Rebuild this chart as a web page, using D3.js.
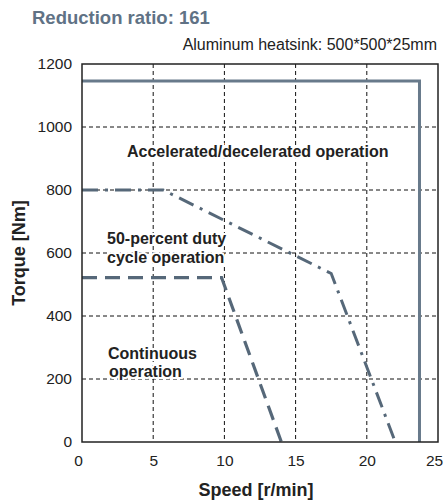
<!DOCTYPE html>
<html>
<head>
<meta charset="utf-8">
<script src="https://cdn.jsdelivr.net/npm/d3@7"></script>
<style>
  body { margin: 0; background: #fff; }
  text { font-family: "Liberation Sans", Arial, sans-serif; }
</style>
</head>
<body>
<div id="chart"></div>
<script>
// data
const xTicks = [0, 5, 10, 15, 20, 25];
const yTicks = [0, 200, 400, 600, 800, 1000, 1200];

// accelerated/decelerated operation (solid)
const accelSpeed  = [0, 23.7, 23.7];
const accelTorque = [1146, 1146, 0];

// 50-percent duty cycle operation (dash-dot)
const dutySpeed  = [0, 5.7, 17.5, 22.0];
const dutyTorque = [800, 800, 535, 0];

// continuous operation (dashed)
const contSpeed  = [0, 9.8, 14.0];
const contTorque = [522, 522, 0];

const W = 445, H = 501;
const margin = {top: 64, right: 7, bottom: 59, left: 82},
    width = W - margin.left - margin.right,
    height = H - margin.top - margin.bottom;

const svg = d3.select("#chart")
  .append("svg")
    .attr("width", W)
    .attr("height", H);

const g = svg.append("g")
    .attr("transform", `translate(${margin.left},${margin.top})`);

const x = d3.scaleLinear().domain([0, 25]).range([0, width]);
const y = d3.scaleLinear().domain([0, 1200]).range([height, 0]);

// titles
svg.append("text").attr("x", 32).attr("y", 24).text("Reduction ratio: 161")
  .style("font-size", "18.5px").style("font-weight", "bold").attr("fill", "#607285");
svg.append("text").attr("x", 437).attr("y", 50).text("Aluminum heatsink: 500*500*25mm")
  .style("font-size", "16px").attr("fill", "#222").attr("text-anchor", "end");

// grid
g.selectAll(".vgrid")
  .data(xTicks.filter(d => d > 0 && d < 25))
  .join("line")
    .attr("x1", d => x(d)).attr("x2", d => x(d))
    .attr("y1", 0).attr("y2", height)
    .attr("stroke", "#111").attr("stroke-width", 1).attr("stroke-dasharray", "4,3");
g.selectAll(".hgrid")
  .data(yTicks.filter(d => d > 0 && d < 1200))
  .join("line")
    .attr("y1", d => y(d)).attr("y2", d => y(d))
    .attr("x1", 0).attr("x2", width)
    .attr("stroke", "#111").attr("stroke-width", 1).attr("stroke-dasharray", "4,3");

// axes
const yAxis = g.append("g")
  .call(d3.axisLeft(y).tickValues(yTicks).tickFormat(d3.format("d")).tickSize(0).tickPadding(10));
yAxis.select(".domain").remove();
yAxis.selectAll("text").style("font-size", "15.5px").attr("fill", "#222")
  .style("font-family", "Liberation Sans, Arial, sans-serif");

const xAxis = g.append("g")
  .attr("transform", `translate(0, ${height})`)
  .call(d3.axisBottom(x).tickValues(xTicks).tickSize(0).tickPadding(13));
xAxis.select(".domain").remove();
xAxis.selectAll("text").style("font-size", "15.5px").attr("fill", "#222")
  .style("font-family", "Liberation Sans, Arial, sans-serif")
  .attr("dx", d => d === 25 ? "-4" : d === 0 ? "-4" : null);

svg.append("text").attr("x", 256).attr("y", 496).text("Speed [r/min]")
  .attr("text-anchor", "middle").style("font-size", "18px").style("font-weight", "bold").attr("fill", "#222");
svg.append("text").attr("transform", "translate(25,253) rotate(-90)").text("Torque [Nm]")
  .attr("text-anchor", "middle").style("font-size", "18px").style("font-weight", "bold").attr("fill", "#222");

// curves
const line = d3.line().x(d => x(d[0])).y(d => y(d[1]));
const curves = [
  {sp: accelSpeed, tq: accelTorque, dash: null, color: "#687a8b", w: 3},
  {sp: dutySpeed, tq: dutyTorque, dash: "16,7,3,7", color: "#566879", w: 3},
  {sp: contSpeed, tq: contTorque, dash: "15,8", color: "#566879", w: 3.2}
];
g.selectAll(".curve")
  .data(curves)
  .join("path")
    .attr("fill", "none")
    .attr("stroke", d => d.color)
    .attr("stroke-width", d => d.w)
    .attr("stroke-dasharray", d => d.dash)
    .attr("d", d => line(d.sp.map((s, i) => [s, d.tq[i]])));

// region labels (white halo hides grid behind)
const labels = [
  {t: "Accelerated/decelerated operation", x: 127, y: 157},
  {t: "50-percent duty", x: 107, y: 244},
  {t: "cycle operation", x: 107, y: 263},
  {t: "Continuous", x: 108, y: 359},
  {t: "operation", x: 109, y: 377}
];
svg.selectAll(".lab")
  .data(labels)
  .join("text")
    .attr("x", d => d.x).attr("y", d => d.y)
    .text(d => d.t)
    .style("font-size", "16px").style("font-weight", "bold")
    .attr("fill", "#222")
    .attr("stroke", "#fff").attr("stroke-width", 4)
    .style("paint-order", "stroke");

// frame
g.append("rect").attr("width", width).attr("height", height)
  .attr("fill", "none").attr("stroke", "#222").attr("stroke-width", 1.5);
</script>
</body>
</html>
